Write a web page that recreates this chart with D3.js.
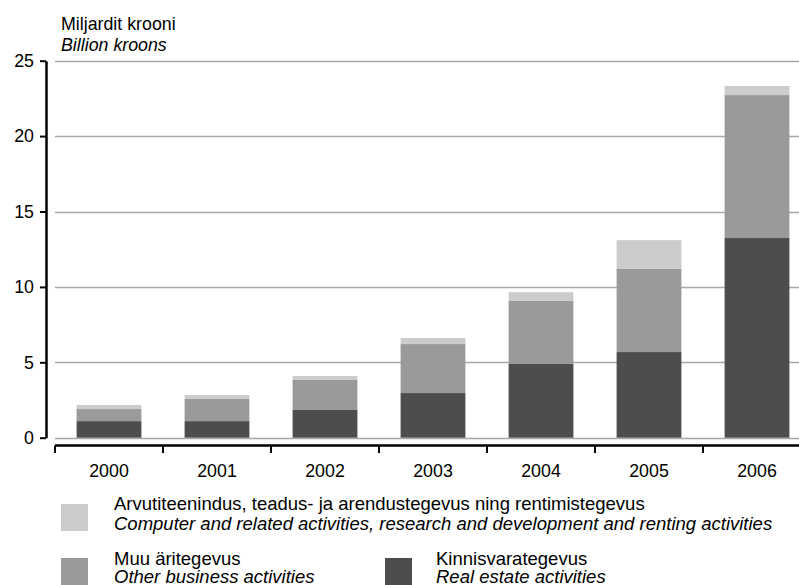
<!DOCTYPE html>
<html>
<head>
<meta charset="utf-8">
<script src="https://cdn.jsdelivr.net/npm/d3@7"></script>
<style>
  html, body { margin: 0; padding: 0; background: #fff; }
  svg { display: block; }
  text { font-family: "Liberation Sans", Arial, sans-serif; fill: #000; }
</style>
</head>
<body>
<svg id="chart" width="799" height="585"></svg>
<script>
// ---- data ----
const years = ["2000", "2001", "2002", "2003", "2004", "2005", "2006"];
const realEstate = [1.1, 1.1, 1.84, 2.96, 4.89, 5.68, 13.24];
const otherBusiness = [0.8, 1.47, 1.99, 3.25, 4.18, 5.51, 9.48];
const computerRD = [0.27, 0.26, 0.26, 0.4, 0.58, 1.91, 0.6];
const yTicks = [0, 5, 10, 15, 20, 25];
const seriesKeys = ["realEstate", "otherBusiness", "computerRD"];
const seriesColors = { realEstate: "#4d4d4d", otherBusiness: "#9a9a9a", computerRD: "#cccccc" };
const yTitle = ["Miljardit krooni", "Billion kroons"];
const legendItems = [
  { key: "computerRD", et: "Arvutiteenindus, teadus- ja arendustegevus ning rentimistegevus", en: "Computer and related activities, research and development and renting activities" },
  { key: "otherBusiness", et: "Muu äritegevus", en: "Other business activities" },
  { key: "realEstate", et: "Kinnisvarategevus", en: "Real estate activities" }
];

const rows = years.map((y, i) => ({ year: y, realEstate: realEstate[i], otherBusiness: otherBusiness[i], computerRD: computerRD[i] }));

const svg = d3.select("#chart");
const FS = 17.8;
const LFS = 18.5;

const x = d3.scaleBand().domain(years).range([55, 811]).paddingInner(0.4).paddingOuter(0.2);
const y = d3.scaleLinear().domain([0, 25]).range([437.7, 60.7]);

// gridlines
svg.append("g").selectAll("line").data(yTicks).join("line")
  .attr("x1", 55).attr("x2", 799)
  .attr("y1", d => Math.round(y(d)) + 0.5).attr("y2", d => Math.round(y(d)) + 0.5)
  .attr("stroke", "#a8a8a8").attr("stroke-width", 1.3);

// bars
const stacked = d3.stack().keys(seriesKeys)(rows);
svg.append("g").selectAll("g").data(stacked).join("g")
  .attr("fill", d => seriesColors[d.key])
  .selectAll("rect").data(d => d).join("rect")
  .attr("x", d => x(d.data.year))
  .attr("width", x.bandwidth())
  .attr("y", d => y(d[1]))
  .attr("height", d => y(d[0]) - y(d[1]));

// y axis
const yAxis = svg.append("g").attr("transform", "translate(46,0)")
  .call(d3.axisLeft(y).tickValues(yTicks).tickSize(6).tickSizeOuter(0).tickPadding(6));
yAxis.select(".domain").attr("stroke", "#000").attr("stroke-width", 2.5);
yAxis.selectAll(".tick line").attr("stroke", "#000").attr("stroke-width", 2);
yAxis.selectAll(".tick text").attr("font-size", FS).attr("font-family", "Liberation Sans, Arial, sans-serif").attr("fill", "#000");

// x axis (category boundaries)
const step = x.step();
const gap = (step - x.bandwidth()) / 2;
const xAxisY = 445.5;
const bounds = years.map(yr => x(yr) - gap);
const xa = svg.append("g");
xa.append("line").attr("x1", 55).attr("x2", 799).attr("y1", xAxisY).attr("y2", xAxisY)
  .attr("stroke", "#000").attr("stroke-width", 2.5);
xa.selectAll("line.tk").data(bounds).join("line").attr("class", "tk")
  .attr("x1", d => d).attr("x2", d => d).attr("y1", xAxisY).attr("y2", xAxisY + 7.5)
  .attr("stroke", "#000").attr("stroke-width", 2);
xa.selectAll("text").data(years).join("text")
  .attr("x", d => x(d) + x.bandwidth() / 2).attr("y", 476.5)
  .attr("text-anchor", "middle").attr("font-size", FS).text(d => d);

// y title
svg.append("text").attr("x", 61).attr("y", 29.5).attr("font-size", FS).text(yTitle[0]);
svg.append("text").attr("x", 61).attr("y", 51).attr("font-size", FS).attr("font-style", "italic").text(yTitle[1]);

// legend
const legPos = [
  { sx: 61, sy: 504, tx: 114, ty: 509.7, ty2: 529.7 },
  { sx: 61, sy: 558, tx: 114, ty: 564.5, ty2: 582.5 },
  { sx: 385, sy: 558, tx: 436, ty: 564.5, ty2: 582.5 }
];
const lg = svg.append("g");
legendItems.forEach((it, i) => {
  const p = legPos[i];
  lg.append("rect").attr("x", p.sx).attr("y", p.sy).attr("width", 27).attr("height", 27).attr("fill", seriesColors[it.key]);
  lg.append("text").attr("x", p.tx).attr("y", p.ty).attr("font-size", LFS).text(it.et);
  lg.append("text").attr("x", p.tx).attr("y", p.ty2).attr("font-size", LFS).attr("font-style", "italic").text(it.en);
});
</script>
</body>
</html>
